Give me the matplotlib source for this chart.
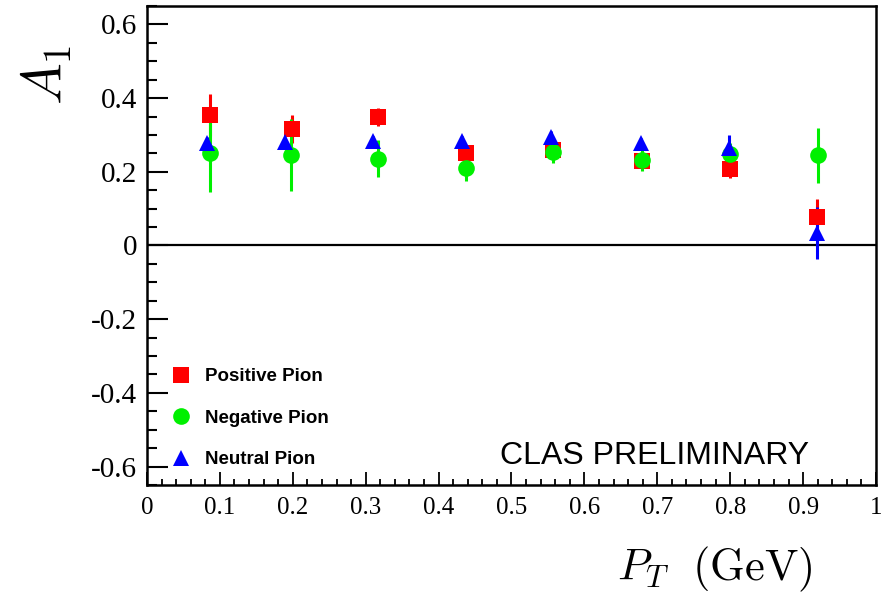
import numpy as np
import matplotlib
matplotlib.use('Agg')
import matplotlib.pyplot as plt
from matplotlib.lines import Line2D

plt.rcParams['mathtext.fontset'] = 'cm'

# pT bin centres (GeV) and asymmetries for each pion channel
pt_pos = [0.086, 0.199, 0.317, 0.437, 0.557, 0.679, 0.800, 0.919]
a1_pos = [0.353, 0.315, 0.349, 0.250, 0.259, 0.229, 0.208, 0.078]
err_pos = [0.057, 0.038, 0.025, 0.020, 0.020, 0.020, 0.025, 0.047]

pt_neg = [0.086, 0.198, 0.317, 0.437, 0.557, 0.679, 0.800, 0.920]
a1_neg = [0.252, 0.245, 0.235, 0.209, 0.253, 0.232, 0.247, 0.245]
err_neg = [0.108, 0.098, 0.050, 0.033, 0.030, 0.030, 0.030, 0.075]

pt_neu = [0.082, 0.189, 0.310, 0.432, 0.554, 0.678, 0.798, 0.919]
a1_neu = [0.279, 0.280, 0.283, 0.283, 0.295, 0.277, 0.265, 0.034]
err_neu = [0.015, 0.015, 0.015, 0.015, 0.015, 0.015, 0.035, 0.070]

labels = ['Positive Pion', 'Negative Pion', 'Neutral Pion']
colors = ['#ff0000', '#00f000', '#0000ff']
markers = ['s', 'o', '^']

fig = plt.figure(figsize=(8.88, 6.0), dpi=100)
ax = fig.add_axes([0.1655, 0.1917, 0.821, 0.7983])

series = [(pt_pos, a1_pos, err_pos), (pt_neg, a1_neg, err_neg), (pt_neu, a1_neu, err_neu)]
for (x, y, e), c, m in zip(series, colors, markers):
    ax.errorbar(x, y, yerr=e, fmt=m, color=c, ms=12, elinewidth=2.2,
                capsize=0, markeredgewidth=0)

ax.axhline(0, color='black', lw=1.6, zorder=1)

ax.set_xlim(0, 1)
ax.set_ylim(-0.65, 0.65)
ax.set_xticks(np.arange(0, 1.01, 0.1))
ax.set_xticks(np.arange(0, 1.001, 0.02), minor=True)
ax.set_yticks([-0.6, -0.4, -0.2, 0, 0.2, 0.4, 0.6])
ax.set_yticks(np.arange(-0.65, 0.651, 0.05), minor=True)
ax.set_xticklabels(['0', '0.1', '0.2', '0.3', '0.4', '0.5', '0.6', '0.7', '0.8', '0.9', '1'])
ax.set_yticklabels(['-0.6', '-0.4', '-0.2', '0', '0.2', '0.4', '0.6'])

for lbl in ax.get_xticklabels():
    lbl.set_family('Liberation Serif')
    lbl.set_fontsize(18)
for lbl in ax.get_yticklabels():
    lbl.set_family('Liberation Serif')
    lbl.set_fontsize(21)

ax.tick_params(axis='y', which='major', direction='in', length=15, width=1.5, pad=7)
ax.tick_params(axis='y', which='minor', direction='in', length=7, width=1.5)
ax.tick_params(axis='x', which='major', direction='in', length=9.5, width=1.3, pad=9)
ax.tick_params(axis='x', which='minor', direction='in', length=4, width=1.3)
for sp in ax.spines.values():
    sp.set_linewidth(1.8)

ax.set_ylabel(r'$A_1$', fontsize=40)
ax.yaxis.set_label_coords(-0.1, 0.856)
ax.set_xlabel(r'$P_T\ \ (\mathrm{GeV})$', fontsize=32)
ax.xaxis.set_label_coords(0.779, -0.125)

handles = [Line2D([], [], ls='none', marker=m, color=c, ms=12, markeredgewidth=0)
           for m, c in zip(markers, colors)]
ax.legend(handles, labels, loc='lower left', bbox_to_anchor=(0.01, 0.0),
          frameon=False, handlelength=1.0, handletextpad=0.8, labelspacing=1.3,
          prop={'family': 'Liberation Sans', 'weight': 'bold', 'size': 13.5})

ax.text(0.484, 0.03, 'CLAS PRELIMINARY', transform=ax.transAxes,
        fontsize=23, family='Liberation Sans', ha='left', va='bottom')

fig.savefig('out.png', dpi=100)
